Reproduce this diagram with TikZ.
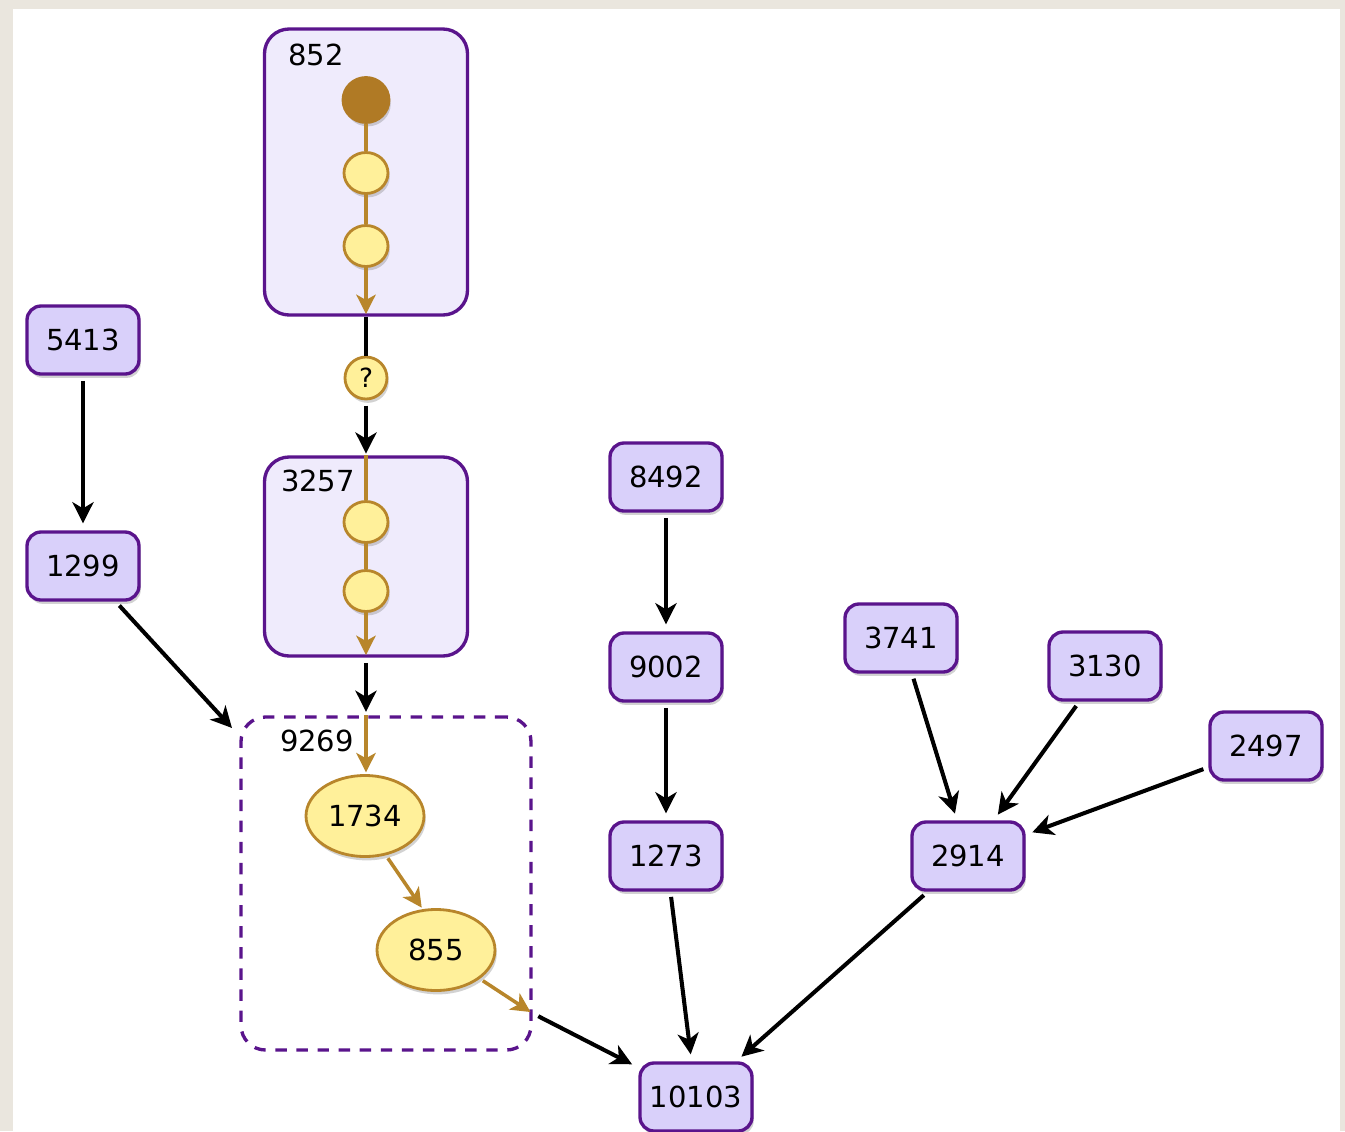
\documentclass[tikz,border=0pt]{standalone}
\usepackage{fontspec}
\setmainfont{DejaVu Sans}
\usetikzlibrary{arrows.meta,shapes.geometric,shadows}
\definecolor{paper}{HTML}{EAE6DE}
\definecolor{ppurple}{HTML}{5A148C}
\definecolor{plav}{HTML}{D9D0FA}
\definecolor{pgroup}{HTML}{EFEBFC}
\definecolor{pgold}{HTML}{B8862B}
\definecolor{pdark}{HTML}{B07A25}
\definecolor{pyellow}{HTML}{FFF09A}

\begin{document}
\begin{tikzpicture}
  [x=0.2cm,y=-0.2cm,font=\fontsize{16.5}{19}\selectfont,
   job/.style={draw=ppurple,fill=plav,line width=1.9pt,rounded corners=8pt,
     minimum width=2.24cm,minimum height=1.36cm,inner sep=0pt,
     drop shadow={opacity=.35,shadow xshift=1pt,shadow yshift=-2.2pt}},
   group/.style={draw=ppurple,fill=pgroup,line width=1.9pt,rounded corners=14pt,inner sep=0pt},
   bead/.style={draw=pgold,fill=pyellow,line width=1.6pt,ellipse,inner sep=0pt,
     minimum width=.88cm,minimum height=.82cm,
     drop shadow={opacity=.35,shadow xshift=1pt,shadow yshift=-2.2pt}},
   sub/.style={draw=pgold,fill=pyellow,line width=1.6pt,ellipse,inner sep=0pt,
     minimum width=2.36cm,minimum height=1.62cm,
     drop shadow={opacity=.35,shadow xshift=1pt,shadow yshift=-2.2pt}},
   flow/.style={line width=2.3pt,-{Stealth[length=12pt,width=12pt,inset=3.5pt]},shorten <=3pt,shorten >=4pt},
   gold/.style={draw=pgold,line width=2pt},
   goldflow/.style={gold,-{Stealth[length=11pt,width=11pt,inset=3pt]}}]
  % background
  \fill[paper] (0,0) rectangle (134.5,113.1);
  \fill[white] (1.3,0.9) rectangle (134.0,113.1);
  \useasboundingbox (0,0) rectangle (134.5,113.1);

  % grouped jobs
  \node[group,minimum width=4.06cm,minimum height=5.72cm] (b852) at (36.6,17.2) {};
  \node[group,minimum width=4.06cm,minimum height=3.98cm] (b3257) at (36.6,55.65) {};
  \node[draw=ppurple,line width=1.9pt,dashed,dash pattern=on 6.5pt off 5.5pt,rounded corners=14pt,
        minimum width=5.8cm,minimum height=6.66cm] (b9269) at (38.6,88.35) {};
  \node (l852) at (31.6,5.5) {852};
  \node (l3257) at (31.8,48.1) {3257};
  \node (l9269) at (31.7,74.1) {9269};

  \node[bead,fill=pdark,draw=pdark,minimum width=.92cm,minimum height=.9cm] (s852) at (36.6,10.0) {};
  \node[bead] (c852a) at (36.6,17.3) {};
  \node[bead] (c852b) at (36.6,24.6) {};
  \node[bead,minimum width=.84cm,minimum height=.84cm,font=\fontsize{15}{17}\selectfont] (q) at (36.6,37.8) {?};
  \node[bead] (c3257a) at (36.6,52.2) {};
  \node[bead] (c3257b) at (36.6,59.1) {};
  \node[sub] (e1734) at (36.5,81.6) {1734};
  \node[sub] (e855) at (43.6,95.0) {855};

  % single jobs
  \node[job] (n5413) at (8.3,34.0) {5413};
  \node[job] (n1299) at (8.3,56.6) {1299};
  \node[job] (n8492) at (66.6,47.7) {8492};
  \node[job] (n9002) at (66.6,66.7) {9002};
  \node[job] (n1273) at (66.6,85.6) {1273};
  \node[job] (n3741) at (90.1,63.8) {3741};
  \node[job] (n3130) at (110.5,66.6) {3130};
  \node[job] (n2497) at (126.6,74.6) {2497};
  \node[job] (n2914) at (96.8,85.6) {2914};
  \node[job] (n10103) at (69.6,109.7) {10103};

  \coordinate (t9269) at (b3257.south |- b9269.north);
  \coordinate (w9269) at (23.2,72.8);
  \coordinate (o9269) at (53.2,101.3);

  % chains inside the groups
  \draw[gold] (s852) -- (c852a) -- (c852b);
  \draw[goldflow,shorten >=1.5pt] (c852b) -- (b852.south);
  \draw[gold] (b3257.north) -- (c3257a) -- (c3257b);
  \draw[goldflow,shorten >=1.5pt] (c3257b) -- (b3257.south);
  \draw[goldflow,shorten >=1pt] (t9269) -- (t9269 |- e1734.north);
  \draw[goldflow,shorten <=2pt,shorten >=1pt] (e1734.-62) -- (e855.108);
  \draw[goldflow,shorten <=2pt,shorten >=1pt] (e855) -- (o9269);

  % dependencies
  \draw[line width=2.3pt] (b852.south) -- (q);
  \draw[flow,shorten >=1pt] (q) -- (b3257.north);
  \draw[flow,shorten >=2pt] (b3257.south) -- (t9269);
  \draw[flow,shorten >=0pt] (n1299) -- (w9269);
  \draw[flow,shorten <=4pt] (o9269) -- (n10103);
  \foreach \from/\to in {n5413/n1299,n8492/n9002,n9002/n1273,n1273/n10103,
                         n3741/n2914,n3130/n2914,n2497/n2914,n2914/n10103}
    \draw[flow] (\from) -- (\to);
\end{tikzpicture}
\end{document}
